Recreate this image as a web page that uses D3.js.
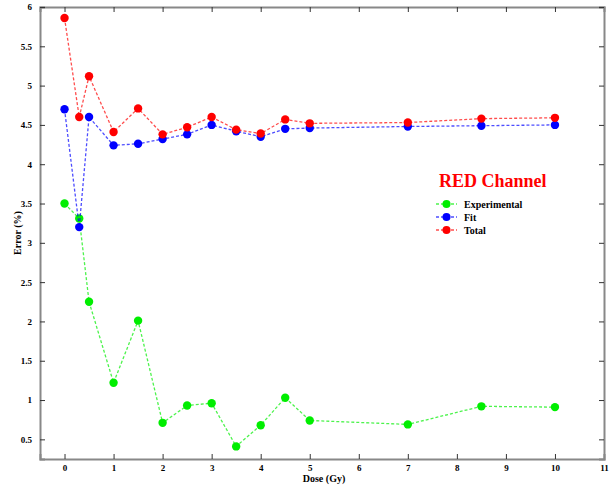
<!DOCTYPE html>
<html lang="en">
<head>
<meta charset="utf-8">
<title>RED Channel</title>
<script src="https://cdn.jsdelivr.net/npm/d3@7"></script>
<style>
  body { margin: 0; background: #fff; }
  text { font-family: "Liberation Serif", "DejaVu Serif", serif; font-weight: bold; }
</style>
</head>
<body>
<script>
// dose values (Gy)
var dose = [0, 0.3, 0.5, 1, 1.5, 2, 2.5, 3, 3.5, 4, 4.5, 5, 7, 8.5, 10];
// error series (%)
var experimental = [3.5, 3.31, 2.25, 1.22, 2.01, 0.71, 0.93, 0.96, 0.41, 0.68, 1.03, 0.74, 0.69, 0.92, 0.91];
var fit = [4.7, 3.2, 4.6, 4.24, 4.26, 4.32, 4.38, 4.5, 4.42, 4.35, 4.45, 4.46, 4.48, 4.49, 4.5];
var total = [5.86, 4.6, 5.12, 4.41, 4.71, 4.38, 4.47, 4.6, 4.44, 4.39, 4.57, 4.52, 4.53, 4.58, 4.59];
var xTicks = [0, 1, 2, 3, 4, 5, 6, 7, 8, 9, 10, 11];
var yTicks = [0.5, 1, 1.5, 2, 2.5, 3, 3.5, 4, 4.5, 5, 5.5, 6];

var series = [
  {name: 'Experimental', values: experimental, color: '#00ee00'},
  {name: 'Fit', values: fit, color: '#0000ff'},
  {name: 'Total', values: total, color: '#ff0000'}
];

var w = 610, h = 486;
var mLeft = 40, mRight = 604, mTop = 7, mBottom = 459;

var svg = d3.select('body').append('svg')
    .attr('width', w)
    .attr('height', h);

var x = d3.scaleLinear().domain([-0.5, 11]).range([mLeft, mRight]);
var y = d3.scaleLinear().domain([0.25, 6]).range([mBottom, mTop]);

// axes: ticks pointing inward on all four sides
var axisColor = '#888';
var bAxis = svg.append('g').attr('transform', 'translate(0,' + mBottom + ')')
    .call(d3.axisBottom(x).tickValues(xTicks).tickSize(-5).tickPadding(6).tickFormat(d3.format('d')));
var tAxis = svg.append('g').attr('transform', 'translate(0,' + mTop + ')')
    .call(d3.axisTop(x).tickValues(xTicks).tickSize(-5).tickFormat(''));
var lAxis = svg.append('g').attr('transform', 'translate(' + mLeft + ',0)')
    .call(d3.axisLeft(y).tickValues(yTicks).tickSize(-5).tickPadding(8).tickFormat(d3.format('')));
var rAxis = svg.append('g').attr('transform', 'translate(' + mRight + ',0)')
    .call(d3.axisRight(y).tickValues(yTicks).tickSize(-5).tickFormat(''));

[bAxis, tAxis, lAxis, rAxis].forEach(function(g) {
  g.select('.domain').attr('stroke', axisColor).attr('stroke-width', 2);
  g.selectAll('.tick line').attr('stroke', '#333').attr('stroke-width', 1);
  g.selectAll('.tick text').attr('fill', '#000').attr('font-size', '9px')
    .attr('font-family', '"Liberation Serif", serif').attr('font-weight', 'bold');
});

// lines and markers
var line = d3.line()
    .x(function(d) { return x(d[0]); })
    .y(function(d) { return y(d[1]); });

series.forEach(function(s) {
  var pts = dose.map(function(d, i) { return [d, s.values[i]]; });
  svg.append('path')
     .datum(pts)
     .attr('d', line)
     .attr('fill', 'none')
     .attr('stroke', s.color)
     .attr('stroke-opacity', 0.7)
     .attr('stroke-width', 1.3)
     .attr('stroke-dasharray', '3,2');
  svg.selectAll(null)
     .data(pts)
     .enter()
     .append('circle')
     .attr('cx', function(d) { return x(d[0]); })
     .attr('cy', function(d) { return y(d[1]); })
     .attr('r', 4.2)
     .attr('fill', s.color);
});

// axis titles
svg.append('text')
   .attr('x', 324)
   .attr('y', 482)
   .attr('text-anchor', 'middle')
   .attr('font-size', '10px')
   .text('Dose (Gy)');
svg.append('text')
   .attr('transform', 'translate(21,' + ((mTop + mBottom) / 2) + ') rotate(-90)')
   .attr('text-anchor', 'middle')
   .attr('font-size', '10px')
   .text('Error (%)');

// title inside plot
svg.append('text')
   .attr('x', 439)
   .attr('y', 187)
   .attr('fill', '#ff0000')
   .attr('font-size', '18px')
   .text('RED Channel');

// legend
var legend = svg.append('g');
series.forEach(function(s, i) {
  var ly = 204 + i * 13;
  legend.append('line')
        .attr('x1', 436).attr('x2', 457)
        .attr('y1', ly).attr('y2', ly)
        .attr('stroke', s.color)
        .attr('stroke-opacity', 0.7)
        .attr('stroke-width', 1.3)
        .attr('stroke-dasharray', '3,2');
  legend.append('circle')
        .attr('cx', 446.5).attr('cy', ly).attr('r', 4)
        .attr('fill', s.color);
  legend.append('text')
        .attr('x', 464).attr('y', ly + 3.5)
        .attr('font-size', '10px')
        .text(s.name);
});
</script>
</body>
</html>
